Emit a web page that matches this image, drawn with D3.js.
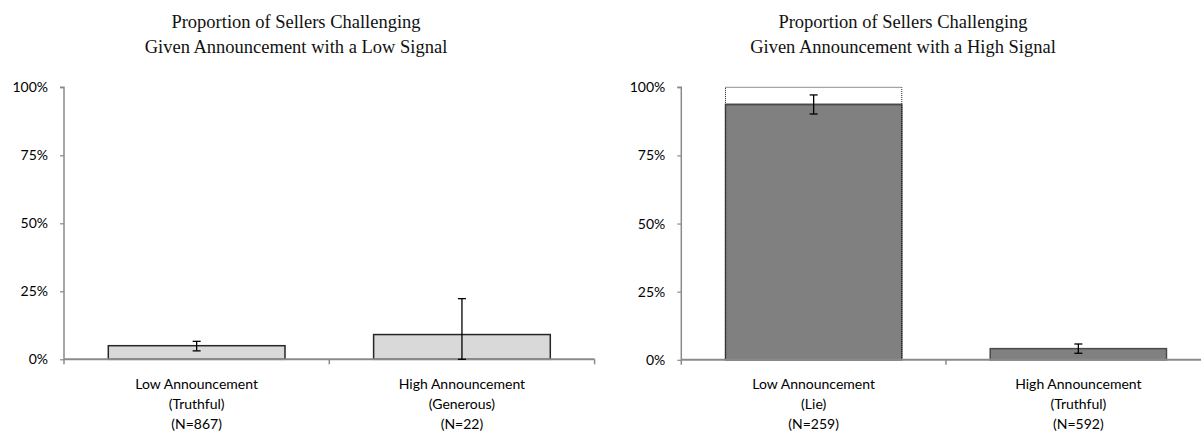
<!DOCTYPE html>
<html>
<head>
<meta charset="utf-8">
<script src="https://cdn.jsdelivr.net/npm/d3@7"></script>
<style>
  html, body { margin: 0; padding: 0; background: #fff; }
  svg { display: block; }
</style>
</head>
<body>
<svg id="chart" width="1201" height="437"></svg>
<script>
// ---- Data ----
const yTicks = [0, 0.25, 0.5, 0.75, 1];

const leftTitle = ["Proportion of Sellers Challenging", "Given Announcement with a Low Signal"];
const leftCategories = ["Low Announcement", "High Announcement"];
const leftSubLabels = ["(Truthful)", "(Generous)"];
const leftN = [867, 22];
const leftValues = [0.050, 0.091];
const leftErrLow = [0.031, 0.000];
const leftErrHigh = [0.066, 0.223];

const rightTitle = ["Proportion of Sellers Challenging", "Given Announcement with a High Signal"];
const rightCategories = ["Low Announcement", "High Announcement"];
const rightSubLabels = ["(Lie)", "(Truthful)"];
const rightN = [259, 592];
const rightValues = [0.937, 0.041];
const rightErrLow = [0.902, 0.024];
const rightErrHigh = [0.972, 0.058];
const rightOutline = [1.0, null]; // dotted 100% frame

const svg = d3.select("#chart");
const axisColor = "#8a8a8a";

function drawPanel(cfg) {
  const g = svg.append("g");
  const x = d3.scaleBand()
    .domain(cfg.categories.map((c, i) => i))
    .range([cfg.x0, cfg.x1])
    .paddingInner(0.334)
    .paddingOuter(0.167);
  const y = d3.scaleLinear().domain([0, 1]).range([cfg.yBottom, cfg.yTop]);

  // Title
  const t = g.append("text")
    .attr("x", cfg.titleX)
    .attr("text-anchor", "middle")
    .style("font-family", "'Liberation Serif', 'DejaVu Serif', serif")
    .style("font-size", "18.5px")
    .attr("fill", "#111");
  cfg.title.forEach((line, i) => {
    t.append("tspan").attr("x", cfg.titleX).attr("y", 28 + i * 24.5).text(line);
  });

  // Y axis
  const yAxis = d3.axisLeft(y).tickValues(yTicks).tickFormat(d3.format(".0%")).tickSize(4).tickPadding(12);
  const ya = g.append("g").attr("transform", `translate(${cfg.x0},0)`).call(yAxis);
  ya.select(".domain").attr("stroke", axisColor).attr("stroke-width", 1.5)
    .attr("d", `M-4,${y(1)}H0V${y(0) + 5}`);
  ya.selectAll(".tick line").attr("stroke", axisColor).attr("stroke-width", 1.2);
  ya.selectAll(".tick text")
    .style("font-family", "Lato, 'Noto Sans', sans-serif")
    .style("font-size", "14px")
    .attr("fill", "#000");

  // Bars
  cfg.values.forEach((v, i) => {
    g.append("rect")
      .attr("x", x(i))
      .attr("y", y(v))
      .attr("width", x.bandwidth())
      .attr("height", y(0) - y(v))
      .attr("fill", cfg.fill)
      .attr("stroke", cfg.stroke)
      .attr("stroke-width", 1.5);
    if (cfg.outline && cfg.outline[i] != null) {
      g.append("rect")
        .attr("x", x(i))
        .attr("y", y(cfg.outline[i]))
        .attr("width", x.bandwidth())
        .attr("height", y(0) - y(cfg.outline[i]))
        .attr("fill", "none")
        .attr("stroke", "#222")
        .attr("stroke-width", 1)
        .attr("stroke-dasharray", "1,1");
      g.append("line")
        .attr("x1", x(i)).attr("x2", x(i) + x.bandwidth())
        .attr("y1", y(v)).attr("y2", y(v))
        .attr("stroke", cfg.stroke).attr("stroke-width", 1.5);
    }
  });

  // X axis
  const xa = g.append("g");
  xa.append("line")
    .attr("x1", cfg.x0).attr("x2", cfg.x1)
    .attr("y1", y(0)).attr("y2", y(0))
    .attr("stroke", axisColor).attr("stroke-width", 2);
  const bounds = cfg.categories.map((c, i) => x(i) + x.bandwidth() + x.step() * x.paddingInner() / 2);
  bounds.forEach(bx => {
    xa.append("line")
      .attr("x1", bx).attr("x2", bx)
      .attr("y1", y(0)).attr("y2", y(0) + 5)
      .attr("stroke", axisColor).attr("stroke-width", 1.5);
  });

  // Category labels
  cfg.categories.forEach((c, i) => {
    const cx = x(i) + x.bandwidth() / 2;
    const lab = g.append("text")
      .attr("text-anchor", "middle")
      .style("font-family", "Lato, 'Noto Sans', sans-serif")
      .style("font-size", "14px")
      .attr("fill", "#000");
    [c, cfg.sub[i], `(N=${cfg.n[i]})`].forEach((line, k) => {
      lab.append("tspan").attr("x", cx).attr("y", 389 + k * 20).text(line);
    });
  });

  // Error bars
  cfg.values.forEach((v, i) => {
    const cx = x(i) + x.bandwidth() / 2;
    const lo = y(cfg.errLow[i]), hi = y(cfg.errHigh[i]);
    g.append("line").attr("x1", cx).attr("x2", cx).attr("y1", lo).attr("y2", hi)
      .attr("stroke", "#000").attr("stroke-width", 1.3);
    [lo, hi].forEach(yy => {
      g.append("line").attr("x1", cx - 4).attr("x2", cx + 4).attr("y1", yy).attr("y2", yy)
        .attr("stroke", "#000").attr("stroke-width", 1.3);
    });
  });
}

drawPanel({
  title: leftTitle, titleX: 296,
  categories: leftCategories, sub: leftSubLabels, n: leftN,
  values: leftValues, errLow: leftErrLow, errHigh: leftErrHigh,
  x0: 64, x1: 594.6, yBottom: 359.3, yTop: 87.3,
  fill: "#d9d9d9", stroke: "#262626"
});

drawPanel({
  title: rightTitle, titleX: 903,
  categories: rightCategories, sub: rightSubLabels, n: rightN,
  values: rightValues, errLow: rightErrLow, errHigh: rightErrHigh, outline: rightOutline,
  x0: 681.3, x1: 1210.7, yBottom: 359.8, yTop: 87.3,
  fill: "#808080", stroke: "#4a4a4a"
});
</script>
</body>
</html>
